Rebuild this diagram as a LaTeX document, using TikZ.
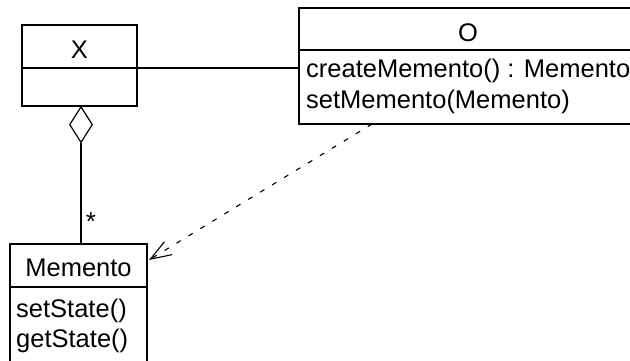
\documentclass[tikz,border=0pt]{standalone}
\usepackage{fontspec}
\setmainfont{Liberation Sans}
\usetikzlibrary{arrows.meta,shapes.geometric}
\tikzset{
  umlbox/.style={draw, line width=1.5pt, inner sep=0pt},
  divider/.style={line width=1.5pt},
  lbl/.style={inner sep=0pt, font=\fontsize{25.5}{30}\selectfont},
  assoc/.style={line width=1.3pt},
  aggdia/.style={diamond, draw, line width=1.2pt, inner sep=0pt, minimum width=23pt, minimum height=36pt, fill=white},
  dep/.style={line width=1.1pt, dash pattern=on 5pt off 9pt, -{Straight Barb[length=21pt,width=15pt,line width=1.1pt]}}
}
\begin{document}
\begin{tikzpicture}[x=1pt,y=-1pt]
\fill[white] (0,0) rectangle (630,360);
\clip (0,0) rectangle (630,360);
% X class
\node[umlbox, minimum width=115pt, minimum height=81pt] (X) at (79.5,65.5) {};
\coordinate (Xd) at (0,68);
\draw[divider] (X.west |- Xd) -- (X.east |- Xd);
\node[lbl, anchor=base] (Xt) at (79.5,58) {X};
% O class
\node[umlbox, minimum width=338pt, minimum height=116pt] (O) at (468,66) {};
\coordinate (Od) at (0,50);
\draw[divider] (O.west |- Od) -- (O.east |- Od);
\node[lbl, anchor=base] (Ot) at (468,41) {O};
\node[lbl, anchor=base west] (O1) at (306,77) {createMemento() : Memento};
\node[lbl, anchor=base west] (O2) at (306,108) {setMemento(Memento)};
% Memento class
\node[umlbox, minimum width=137pt, minimum height=140pt] (M) at (78.5,314) {};
\coordinate (Md) at (0,287);
\draw[divider] (M.west |- Md) -- (M.east |- Md);
\node[lbl, anchor=base] (Mt) at (78.5,276) {Memento};
\node[lbl, anchor=base west] (M1) at (16,317) {setState()};
\node[lbl, anchor=base west] (M2) at (16,347) {getState()};
% association X -- O
\draw[assoc] (X.east |- Xd) -- (O.west |- Xd);
% aggregation
\node[aggdia, anchor=north] (dia) at (81,106) {};
\draw[assoc] (dia.south) -- (dia.south |- M.north);
\node[inner sep=0pt, font=\fontsize{26}{26}\selectfont] (star) at (91,222) {*};
% dependency
\coordinate (depS) at (372,124);
\coordinate (depE) at (149,260);
\draw[dep] (depS) -- (depE);
\end{tikzpicture}
\end{document}
